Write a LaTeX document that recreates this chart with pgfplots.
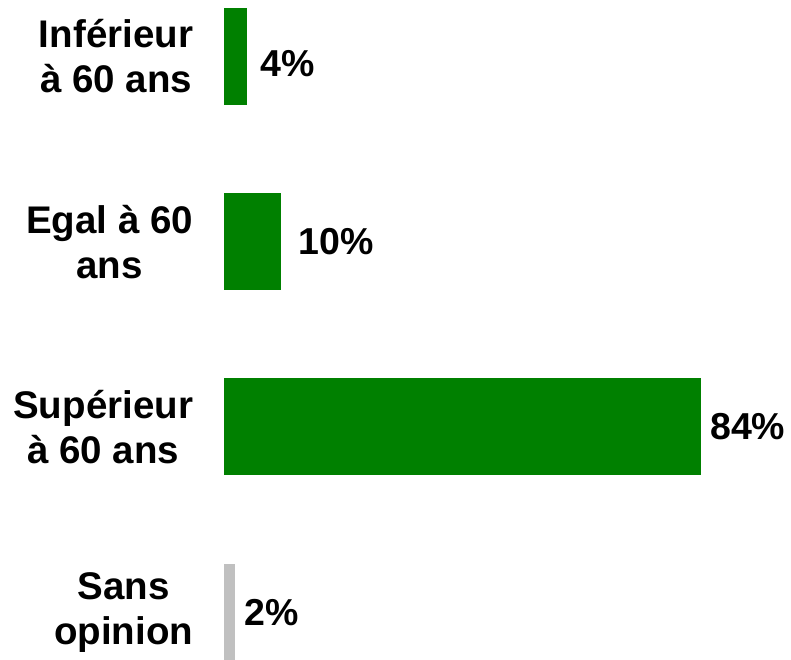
\documentclass[border=0pt]{standalone}
\usepackage{pgfplots}
\pgfplotsset{compat=1.18}
\usepackage{fontspec}
\setmainfont{Liberation Sans}
\definecolor{barGreen}{RGB}{0,128,0}
\definecolor{barGray}{RGB}{192,192,192}
\begin{document}
\begin{tikzpicture}
\begin{axis}[
  scale only axis,
  width=791pt, height=659pt,
  xmin=-39.4, xmax=99.85,
  ymin=-0.305, ymax=3.253,
  y dir=reverse,
  xbar, bar width=97pt, bar shift=0pt,
  axis line style={draw=none},
  tick style={draw=none},
  xtick=\empty,
  ytick={0,1,2,3},
  yticklabels={{Inférieur\\à 60 ans},{Egal à 60\\ans},{Supérieur\\à 60 ans},{Sans\\opinion}},
  yticklabel style={align=center, inner sep=0pt, xshift=197.5pt, anchor=east,
    font=\fontsize{38.5}{45}\selectfont\bfseries},
  nodes near coords={\pgfmathprintnumber[assume math mode=true]{\pgfplotspointmeta}\%},
  point meta=x,
  every node near coord/.append style={anchor=west, inner sep=0pt,
    font=\fontsize{37.5}{45}\selectfont\bfseries, text=black},
  clip=false,
]
\addplot[fill=barGreen, draw=none, every node near coord/.append style={xshift=14pt, yshift=-7pt}] coordinates {(4,0)};
\addplot[fill=barGreen, draw=none, every node near coord/.append style={xshift=18pt}] coordinates {(10,1)};
\addplot[fill=barGreen, draw=none, every node near coord/.append style={xshift=9pt}] coordinates {(84,2)};
\addplot[fill=barGray, draw=none, every node near coord/.append style={xshift=9pt}] coordinates {(2,3)};
\end{axis}
\pgfresetboundingbox
\path[use as bounding box] (current axis.south west) rectangle (current axis.north east);
\end{tikzpicture}
\end{document}
